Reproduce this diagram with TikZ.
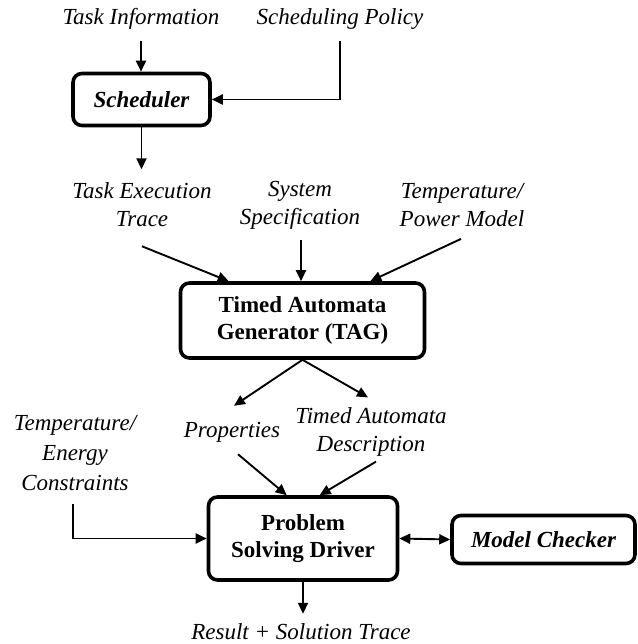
\documentclass[tikz,border=0pt]{standalone}
\usepackage{fontspec}
\setmainfont{Liberation Serif}
\usetikzlibrary{arrows.meta,calc}
\begin{document}
\begin{tikzpicture}[x=1pt,y=-1pt,
  lbl/.style={font=\fontsize{23}{28}\selectfont\itshape, align=center, inner sep=0pt},
  blk/.style={draw, line width=3.6pt, rounded corners=9pt, align=center, inner sep=0pt,
              font=\fontsize{23}{27.5}\selectfont\bfseries},
  arr/.style={line width=1.9pt, -{Triangle[length=11pt,width=10pt]}},
  darr/.style={line width=1.9pt, {Triangle[length=11pt,width=10pt]}-{Triangle[length=11pt,width=10pt]}}]
\useasboundingbox (0,0) rectangle (637,644);
% labels
\node[lbl] (ti) at (141,19) {Task Information};
\node[lbl] (sp) at (340,19) {Scheduling Policy};
\node[lbl] (tet) at (142,205) {Task Execution\\Trace};
\node[lbl] (ss) at (300,205) {System\\Specification};
\node[lbl] (tpm) at (462,205) {Temperature/\\Power Model};
\node[lbl] (prop) at (232,432) {Properties};
\node[lbl] (tad) at (371,432) {Timed Automata\\Description};
\node[lbl, font=\fontsize{23}{30}\selectfont\itshape] (tec) at (75,453) {Temperature/\\Energy\\Constraints};
\node[lbl, anchor=base] (res) at (301,639) {Result + Solution Trace};
% blocks
\node[blk, minimum width=137pt, minimum height=52pt, font=\fontsize{23}{28}\selectfont\bfseries\itshape] (sched) at (141.5,99.5) {Scheduler};
\node[blk, minimum width=244pt, minimum height=75pt] (tag) at (302.5,320.5) {Timed Automata\\Generator (TAG)};
\node[blk, minimum width=189pt, minimum height=83pt] (psd) at (303,538.5) {Problem\\Solving Driver};
\node[blk, minimum width=183pt, minimum height=48pt, font=\fontsize{23}{28}\selectfont\bfseries\itshape] (mc) at (543.5,539.5) {Model Checker};
% connectors
\draw[arr] ($(ti.south)+(0,11)$) -- (ti.south |- sched.north);
\draw[arr] ($(sp.south)+(0,11)$) |- (sched.east);
\draw[arr] (sched.south) -- ($(sched.south)+(0,42)$);
\draw[arr] ($(tet.south)+(0,19)$) -- ($(tag.north west)+(50,0)$);
\draw[arr] ($(ss.south)+(1,11)$) -- ($(ss.south |- tag.north)+(1,0)$);
\draw[arr] ($(tpm.south)+(-1,12)$) -- ($(tag.north east)+(-56,0)$);
\draw[arr] (tag.south) -- ($(prop.north)+(2,-16)$);
\draw[arr] (tag.south) -- ($(tad.north)+(-3,-10)$);
\draw[arr] ($(prop.south)+(6,12)$) -- ($(psd.north west)+(80,0)$);
\draw[arr] ($(tad.south)+(5,5)$) -- ($(psd.north west)+(113,0)$);
\draw[arr] ($(tec.south)+(-2,13)$) |- (psd.west);
\draw[darr] (psd.east) -- (mc.west);
\draw[arr] (psd.south) -- ($(psd.south)+(0,32)$);
\end{tikzpicture}
\end{document}
